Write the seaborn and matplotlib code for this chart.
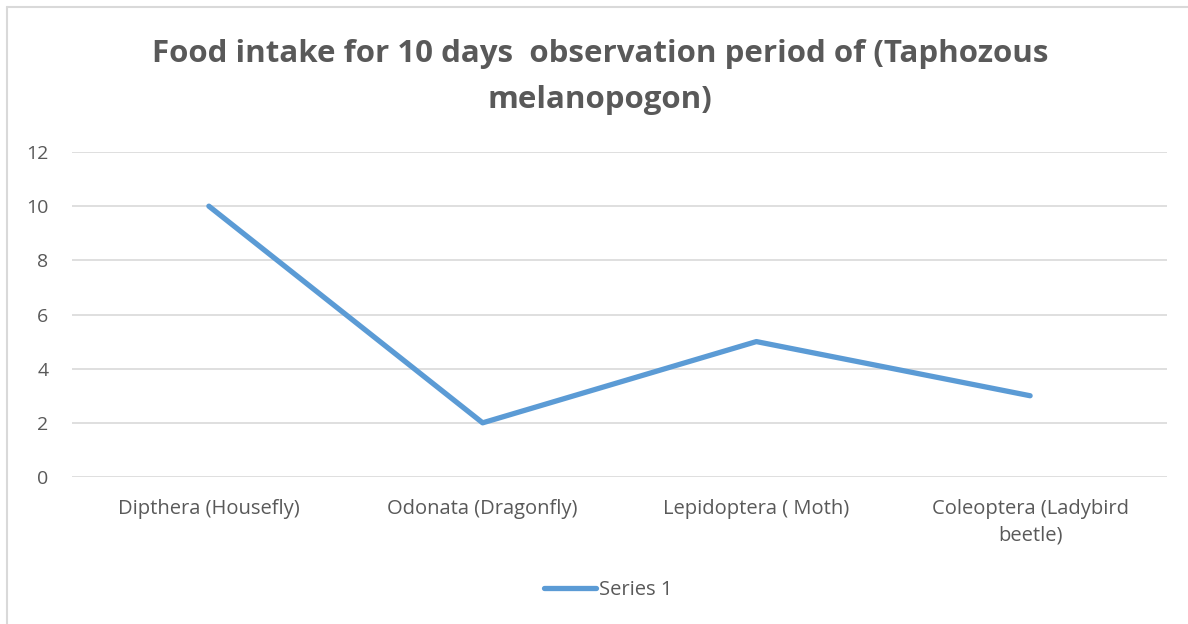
import matplotlib
matplotlib.use("Agg")
import matplotlib.pyplot as plt
import seaborn as sns
import pandas as pd
from matplotlib.lines import Line2D

categories = ["Dipthera (Housefly)", "Odonata (Dragonfly)", "Lepidoptera ( Moth)", "Coleoptera (Ladybird\nbeetle)"]
values = [10, 2, 5, 3]
series_name = "Series 1"
yticks = [0, 2, 4, 6, 8, 10, 12]
title = "Food intake for 10 days  observation period of (Taphozous\nmelanopogon)"

sns.set_theme(style="white")
plt.rcParams['font.family'] = ['Open Sans', 'DejaVu Sans']

text_color = "#595959"
line_color = "#5B9BD5"
grid_color = "#D9D9D9"

fig = plt.figure(figsize=(11.88, 6.24), dpi=100)
ax = fig.add_axes([72/1188, 1-477/624, (1167-72)/1188, (477-152)/624])

df = pd.DataFrame({"cat": categories, "val": values, "series": series_name})
x = list(range(len(categories)))
df["x"] = x
sns.lineplot(data=df, x="x", y="val", ax=ax, color=line_color, linewidth=3.8,
             legend=False, solid_capstyle="round")

ax.set_xlim(-0.5, len(categories) - 0.5)
ax.set_ylim(0, 12)
ax.set_yticks(yticks)
ax.set_yticklabels([str(t) for t in yticks], fontsize=14, color=text_color)
ax.set_xticks(x)
ax.set_xticklabels(categories, fontsize=14.5, color=text_color, linespacing=1.45)
ax.tick_params(axis="both", length=0)
ax.tick_params(axis="x", pad=16)
ax.tick_params(axis="y", pad=17)
ax.grid(axis="y", color=grid_color, linewidth=1.2)
ax.set_axisbelow(True)
for s in ax.spines.values():
    s.set_visible(False)
ax.set_xlabel("")
ax.set_ylabel("")

fig.text(0.5 + 6/1188, 1 - 77/624, title, ha="center", va="center", fontsize=22.5,
         fontweight="bold", color=text_color, linespacing=1.68)

handle = Line2D([], [], color=line_color, linewidth=3.8, solid_capstyle="round")
fig.legend([handle], [series_name], loc="center", bbox_to_anchor=(0.512, 1 - 590/624),
           frameon=False, fontsize=14.5, handlelength=2.6, handletextpad=0.15,
           labelcolor=text_color)

# chart frame (left and top visible)
fig.add_artist(Line2D([7/1188, 7/1188], [0, 1 - 7/624], color=grid_color, linewidth=1.5,
                      transform=fig.transFigure))
fig.add_artist(Line2D([7/1188, 1], [1 - 7/624, 1 - 7/624], color=grid_color, linewidth=1.5,
                      transform=fig.transFigure))

fig.savefig("out.png", dpi=100, facecolor="white")
